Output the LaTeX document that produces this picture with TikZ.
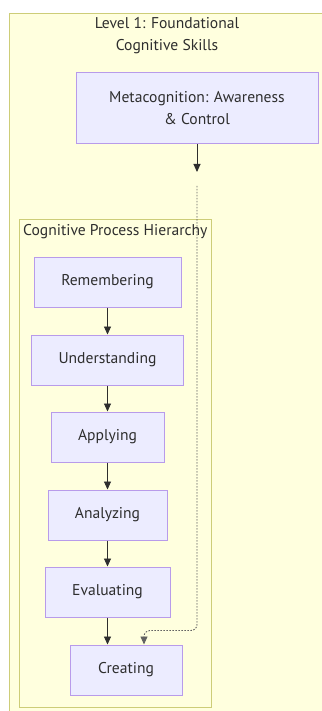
\documentclass[tikz,border=0pt]{standalone}
\usepackage{fontspec}
\setmainfont{PT Sans}
\usetikzlibrary{arrows.meta}
\definecolor{clusterfill}{HTML}{FFFFDE}
\definecolor{clusterline}{HTML}{CDCD78}
\definecolor{nodefill}{HTML}{ECECFF}
\definecolor{nodeline}{HTML}{B89BEA}
\definecolor{ink}{HTML}{2E2E2E}
\tikzset{
  cluster/.style={draw=clusterline, fill=clusterfill, line width=1pt},
  label/.style={text=ink, font=\fontsize{15.6}{22}\selectfont, inner sep=0pt},
  process/.style={draw=nodeline, fill=nodefill, line width=1pt, minimum height=50pt,
    text=ink, font=\fontsize{15.6}{22}\selectfont, align=center},
  flow/.style={draw=ink, line width=0.9pt, -{Triangle[length=8pt,width=7pt]}},
}

\begin{document}
\begin{tikzpicture}[x=1pt,y=-1pt]
\useasboundingbox (0,0) rectangle (321,711);
% outer cluster
\draw[cluster] (9,14) rectangle (335,725);
\node[label, align=center] (levelTitle) at (167,36) {Level 1: Foundational\\Cognitive Skills};
\node[process, minimum width=242pt, minimum height=71pt] (meta) at (197,108.5) {Metacognition: Awareness\\\& Control};

% inner cluster
\draw[cluster] (19,220) rectangle (211,707);
\node[label, anchor=west] (hierTitle) at (23,232) {Cognitive Process Hierarchy};

\node[process, minimum width=147pt] (remembering) at (107.5,282) {Remembering};
\node[process, minimum width=152pt] (understanding) at (107.5,360) {Understanding};
\node[process, minimum width=113pt] (applying) at (107.5,437) {Applying};
\node[process, minimum width=119pt] (analyzing) at (107.5,515) {Analyzing};
\node[process, minimum width=125pt] (evaluating) at (107.5,592) {Evaluating};
\node[process, minimum width=112pt] (creating) at (126,670) {Creating};

\draw[flow] (remembering) -- (understanding);
\draw[flow] (understanding) -- (applying);
\draw[flow] (applying) -- (analyzing);
\draw[flow] (analyzing) -- (evaluating);
\draw[flow] (evaluating.south) -- (evaluating.south |- creating.north);

% metacognition links
\coordinate (metaEnd) at (197,172);
\coordinate (dotStart) at (197,186);
\draw[flow] (meta.south) -- (metaEnd);
\draw[flow, draw=ink!75, dash pattern=on 1.5pt off 1.5pt, rounded corners=6pt]
  (dotStart) |- ([xshift=18pt,yshift=14pt]creating.north) -- ([xshift=18pt]creating.north);
\end{tikzpicture}
\end{document}
